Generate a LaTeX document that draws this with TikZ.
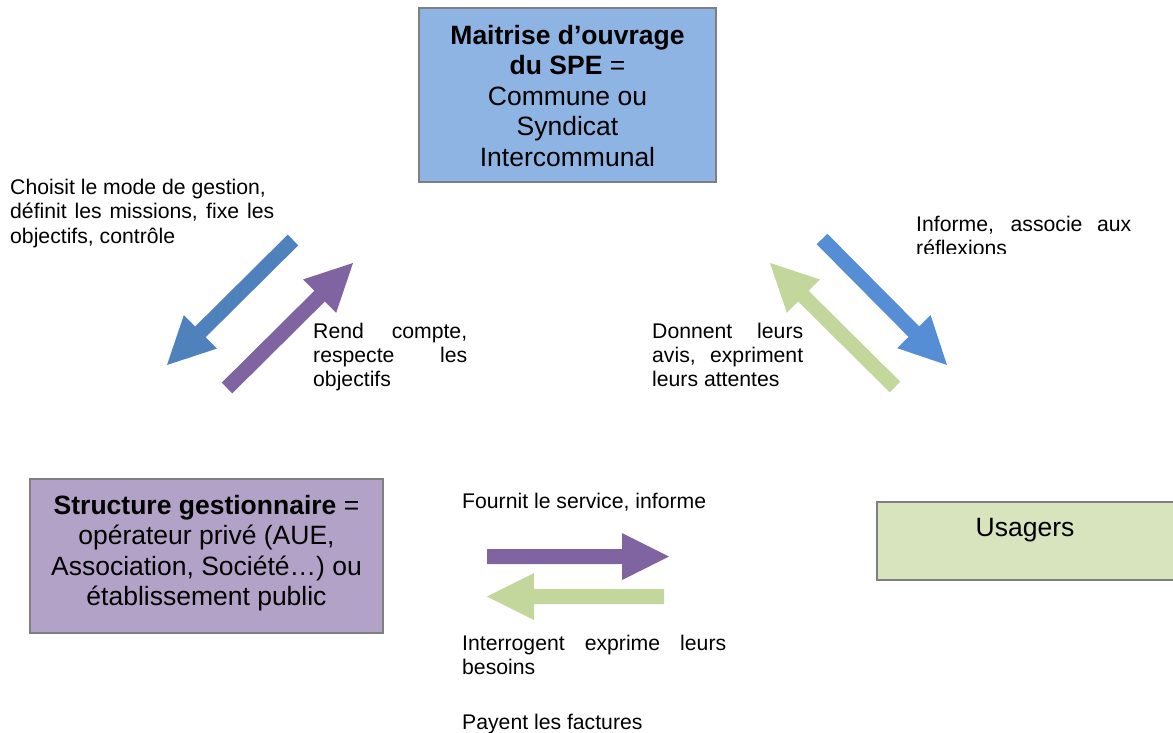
\documentclass[tikz,border=0pt]{standalone}
\usepackage{fontspec}
\setmainfont{Liberation Sans}
\usetikzlibrary{calc}
\definecolor{boxblue}{HTML}{8EB4E3}
\definecolor{boxpurple}{HTML}{B3A2C7}
\definecolor{boxgreen}{HTML}{D7E4BD}
\definecolor{bordergray}{HTML}{7F7F7F}
\definecolor{arrblueA}{HTML}{4F81BD}
\definecolor{arrblueB}{HTML}{558ED5}
\definecolor{arrpurple}{HTML}{8064A2}
\definecolor{arrgreen}{HTML}{C3D69B}
\tikzset{
  boxframe/.style={draw=bordergray, line width=2pt},
  boxtext/.style={inner sep=0pt, align=center, font=\fontsize{26.5}{30.5}\selectfont},
  lbl/.style={inner sep=0pt, anchor=base west, align=justify, font=\fontsize{21.2}{24.4}\selectfont},
}
% block arrow: colour, tail coordinate, tip coordinate
\newcommand{\blockarrow}[3]{%
  \path coordinate (hb) at ($(#3)!47pt!(#2)$);
  \fill[#1] ($(#2)!7.5pt!90:(#3)$) -- ($(hb)!7.5pt!90:(#3)$) -- ($(hb)!23.5pt!90:(#3)$)
    -- (#3) -- ($(hb)!23.5pt!-90:(#3)$) -- ($(hb)!7.5pt!-90:(#3)$) -- ($(#2)!7.5pt!-90:(#3)$) -- cycle;
}
\begin{document}
\begin{tikzpicture}[x=1pt,y=-1pt]
\useasboundingbox (0,0) rectangle (1173,733);

% boxes
\filldraw[boxframe, fill=boxblue] (419,8) rectangle (716,182);
\node[boxtext] (mo) at (567.5,96) {\textbf{Maitrise d’ouvrage}\\\textbf{du SPE} =\\Commune ou\\Syndicat\\Intercommunal};

\filldraw[boxframe, fill=boxpurple] (30,479) rectangle (383,633);
\node[boxtext] (sg) at (206.5,553) {\textbf{Structure gestionnaire} =\\opérateur privé (AUE,\\Association, Société…) ou\\établissement public};

\filldraw[boxframe, fill=boxgreen] (877,502) rectangle (1175,580);
\node[boxtext] (us) at (1025,530) {Usagers};

% arrows
\coordinate (a1t) at (293,240); \coordinate (a1h) at (167,365);
\coordinate (a2t) at (227,388); \coordinate (a2h) at (353,263);
\coordinate (a3t) at (822,239); \coordinate (a3h) at (947,365);
\coordinate (a4t) at (895,387); \coordinate (a4h) at (770,263);
\coordinate (a5t) at (487,556.5); \coordinate (a5h) at (669,556.5);
\coordinate (a6t) at (664,596.5); \coordinate (a6h) at (487,596.5);
\blockarrow{arrblueA}{a1t}{a1h}
\blockarrow{arrpurple}{a2t}{a2h}
\blockarrow{arrblueB}{a3t}{a3h}
\blockarrow{arrgreen}{a4t}{a4h}
\blockarrow{arrpurple}{a5t}{a5h}
\blockarrow{arrgreen}{a6t}{a6h}

% labels
\node[lbl, text width=264pt] (l1) at (10,194.5) {Choisit le mode de gestion,\hfill\null\linebreak définit les missions, fixe les\linebreak objectifs, contrôle};
\node[lbl, text width=154pt] (l2) at (313,338) {Rend compte,\linebreak respecte les\linebreak objectifs};
\node[lbl, text width=151pt] (l3) at (652,338) {Donnent leurs\linebreak avis, expriment\linebreak leurs attentes};
\begin{scope}
\clip (900,200) rectangle (1150,253);
\node[lbl, text width=215pt] (l4) at (916,231) {Informe, associe aux\linebreak réflexions};
\end{scope}
\node[lbl, align=left] (l5) at (462,508) {Fournit le service, informe};
\node[lbl, text width=264pt] (l6) at (462,650) {Interrogent exprime leurs\linebreak besoins};
\node[lbl, align=left] (l7) at (462,729) {Payent les factures};
\end{tikzpicture}
\end{document}
